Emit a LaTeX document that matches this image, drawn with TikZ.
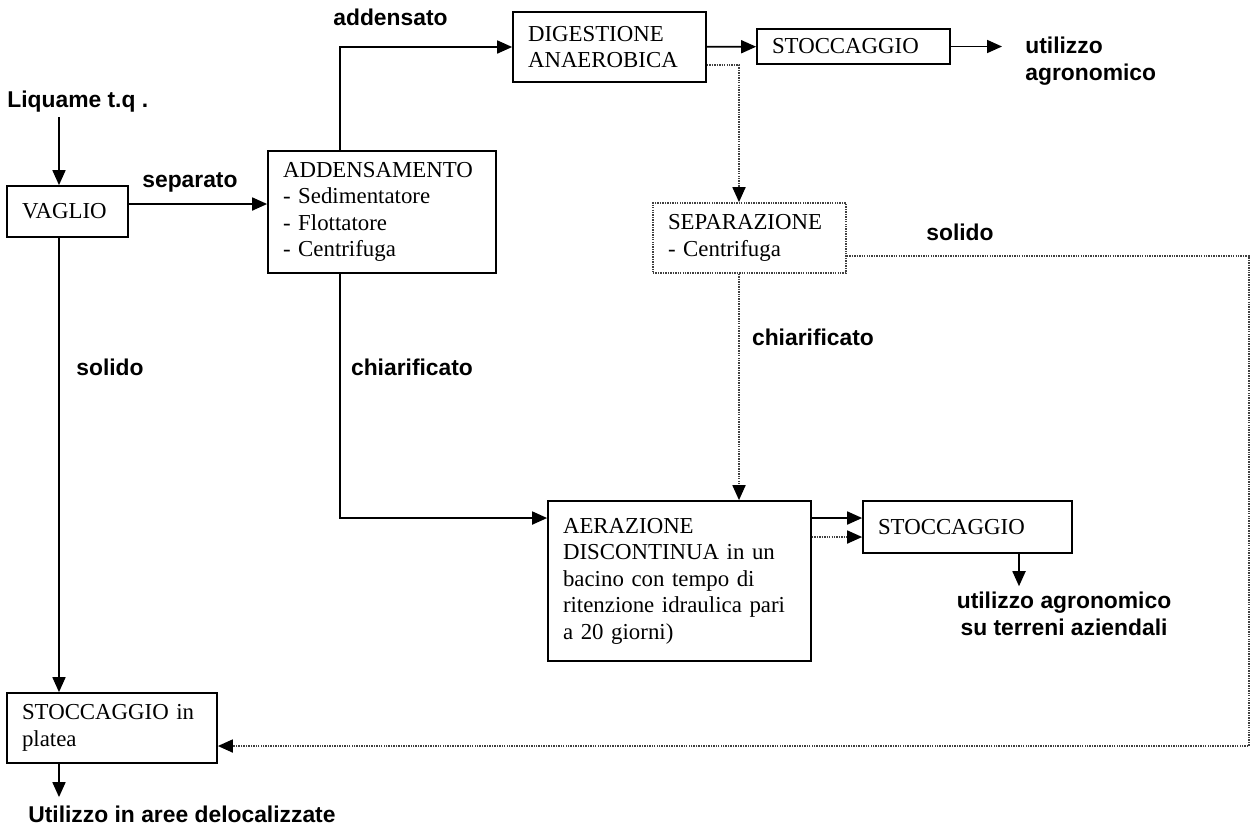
\documentclass[tikz,border=0pt]{standalone}
\usepackage{fontspec}
\setmainfont{Liberation Serif}
\newfontfamily\etifont{Liberation Sans}
\usepackage{tikz}
\usetikzlibrary{calc,positioning,arrows.meta}
\tikzset{
    >={Triangle[length=0.3cm,width=0.26cm]},
    fase/.style={
        rectangle,
        draw=black, line width=1pt,
        align=left,
        inner xsep=0.3cm,
        inner ysep=0pt,
        font=\fontsize{13}{15.1}\selectfont
    },
    line/.style={draw, line width=1pt, ->},
    puntini/.style={
        draw=black!75,
        line width=1pt,
        dash pattern=on 0.8pt off 0.6pt,
        >={Triangle[length=0.3cm,width=0.26cm,black]}
    },
    etichetta/.style={
        font=\etifont\bfseries\fontsize{13}{15.3}\selectfont,
        inner sep=0pt
    }
}

\begin{document}
\begin{tikzpicture}[x=0.02cm, y=-0.02cm]
    \useasboundingbox (0,0) rectangle (1256,826);

    \node[fase, text width=1.82cm, minimum height=1.02cm] (vaglio) at (67.5,211.5) {VAGLIO};
    \node[fase, text width=3.96cm, minimum height=2.44cm] (addens) at (382,212)
        {ADDENSAMENTO\\- Sedimentatore\\- Flottatore\\- Centrifuga};
    \node[fase, text width=3.26cm, minimum height=1.4cm] (digest) at (609.5,47)
        {DIGESTIONE\\ANAEROBICA};
    \node[fase, text width=3.26cm, minimum height=0.7cm] (stocc1) at (853.5,46.5) {STOCCAGGIO};
    \node[fase, puntini, text width=3.26cm, minimum height=1.4cm] (separ) at (749.5,238)
        {SEPARAZIONE\\- Centrifuga};
    \node[fase, text width=4.66cm, minimum height=3.2cm] (aeraz) at (679.5,581)
        {AERAZIONE\\DISCONTINUA in un\\bacino con tempo di\\ritenzione idraulica pari\\a 20 giorni)};
    \node[fase, text width=3.58cm, minimum height=1.04cm] (stocc2) at (967.5,527) {STOCCAGGIO};
    \node[fase, text width=3.6cm, minimum height=1.4cm] (platea) at (112,728)
        {STOCCAGGIO in\\platea};

    \node[etichetta, anchor=base west] (liquame) at (7,107) {Liquame t.q .};
    \node[etichetta, anchor=base west] (separato) at (142,187) {separato};
    \node[etichetta, anchor=base west] (addensato) at (333,25) {addensato};
    \node[etichetta] (solido1) at (110,367) {solido};
    \node[etichetta] (chiar1) at (412,367) {chiarificato};
    \node[etichetta] (solido2) at (960,232) {solido};
    \node[etichetta] (chiar2) at (813,337) {chiarificato};
    \node[etichetta, anchor=base west, align=left] (agro) at (1025,80) {utilizzo\\agronomico};
    \node[etichetta, anchor=base, align=center] (aziend) at (1064,635)
        {utilizzo agronomico\\su terreni aziendali};
    \node[etichetta, anchor=base west] (delocal) at (28,822) {Utilizzo in aree delocalizzate};

    \coordinate (sx) at (59,0);
    \coordinate (asse) at (340,0);
    \coordinate (snodo) at (739,0);
    \coordinate (bordo) at (1249,0);
    \coordinate (dx) at (1019,0);

    \draw[line, shorten <=0.1cm] (liquame.south -| sx) -- (vaglio.north -| sx);
    \draw[line] ([yshift=0.15cm]vaglio.east) -- ([yshift=0.15cm]vaglio.east -| addens.west);
    \draw[line] (vaglio.south -| sx) -- (platea.north -| sx);
    \draw[line, shorten >=0.16cm] (platea.south -| sx) -- (delocal.north -| sx);
    \draw[line] (addens.north -| asse) |- (digest.west);
    \draw[line] (addens.south -| asse) |- ([yshift=1.26cm]aeraz.west);
    \draw[line] (digest) -- (stocc1);
    \draw[line, shorten >=0.46cm] (stocc1.east) -- (stocc1.east -| agro.west);
    \draw[puntini, line] ([yshift=-0.36cm]digest.east) -| (separ.north -| snodo);
    \draw[puntini, line] (separ.south -| snodo) -- (aeraz.north -| snodo);
    \draw[puntini, line] ([yshift=-0.36cm]separ.east) -| ([yshift=-0.36cm]platea.east -| bordo)
        -- ([yshift=-0.36cm]platea.east);
    \draw[line] ([yshift=0.18cm]stocc2.west -| aeraz.east) -- ([yshift=0.18cm]stocc2.west);
    \draw[puntini, line] ([yshift=-0.2cm]stocc2.west -| aeraz.east) -- ([yshift=-0.2cm]stocc2.west);
    \draw[line, shorten >=0.1cm] (stocc2.south -| dx) -- (aziend.north -| dx);
\end{tikzpicture}
\end{document}
